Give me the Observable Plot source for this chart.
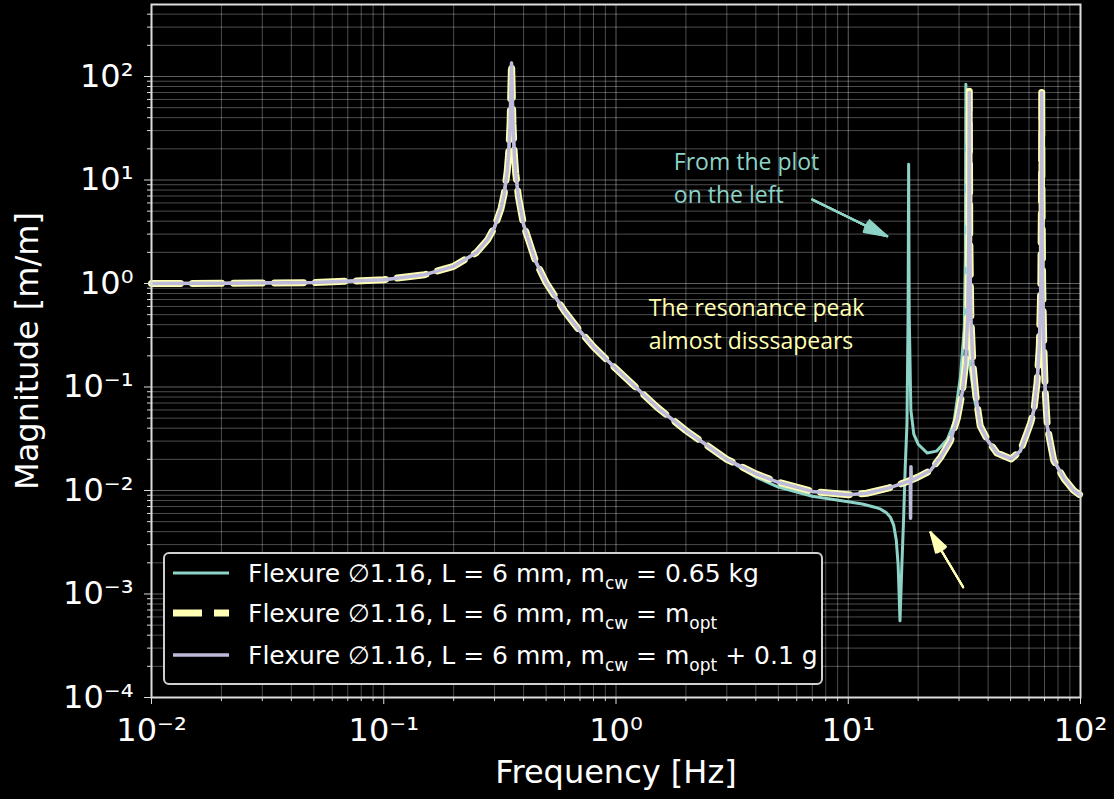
<!DOCTYPE html>
<html>
<head>
<meta charset="utf-8">
<script src="https://cdn.jsdelivr.net/npm/d3@7"></script>
<script src="https://cdn.jsdelivr.net/npm/@observablehq/plot@0.6"></script>
<style>
  html, body { margin: 0; padding: 0; background: #000; }
  #wrap { position: relative; width: 1114px; height: 799px; background: #000; }
  #legend { position: absolute; left: 163px; top: 552px; width: 656px; height: 129px;
    border: 2px solid #d0d0d0; border-radius: 6px; background: #000;
    font-family: "DejaVu Sans", sans-serif; font-size: 25px; color: #fff; }
  .row { position: absolute; left: 0; height: 40px; display: flex; align-items: center; white-space: nowrap; }
  .row svg { margin-left: 8px; margin-right: 19px; }
  .sb { font-size: 17px; position: relative; top: 7px; }
</style>
</head>
<body>
<div id="wrap"></div>
<script>
// ---------- data ----------
const xMajor = [0.01, 0.1, 1, 10, 100];
const xMinor = [0.02,0.03,0.04,0.05,0.06,0.07,0.08,0.09,0.2,0.3,0.4,0.5,0.6,0.7,0.8,0.9,2,3,4,5,6,7,8,9,20,30,40,50,60,70,80,90];
const yMajor = [1e-4, 1e-3, 1e-2, 1e-1, 1, 10, 100];
const yMinor = [2e-4,3e-4,4e-4,5e-4,6e-4,7e-4,8e-4,9e-4,2e-3,3e-3,4e-3,5e-3,6e-3,7e-3,8e-3,9e-3,
  0.02,0.03,0.04,0.05,0.06,0.07,0.08,0.09,0.2,0.3,0.4,0.5,0.6,0.7,0.8,0.9,2,3,4,5,6,7,8,9,20,30,40,50,60,70,80,90,200,300,400];

const seriesNames = [
  "Flexure ∅1.16, L = 6 mm, m_cw = 0.65 kg",
  "Flexure ∅1.16, L = 6 mm, m_cw = m_opt",
  "Flexure ∅1.16, L = 6 mm, m_cw = m_opt + 0.1 g"
];
const seriesColors = ["#8dd3c7", "#ffffb3", "#bebada"];

// m_cw = 0.65 kg
const tealF = [0.01,0.02,0.05,0.1,0.15,0.2,0.25,0.28,0.3,0.32,0.33,0.34,0.345,0.35,0.3525,0.355,0.3575,0.36,0.365,0.37,0.38,0.4,0.45,0.5,0.6,0.7,0.8,1,1.5,2,3,
  4,5,7,10,11.5,13,13.8,14.6,15.2,15.7,16.1,16.4,16.7,17.0,17.3,17.6,17.9,18.1,18.2,18.3,18.6,19.15,20,21.9,24,26.7,28.5,30.4,31.6,31.95,32.1,32.25,32.7,33.5,35,37,40,43.7,50.3,55,58,61,63,65,66.5,67.5,67.95,68.1,68.25,68.7,69.5,70.5,72,76.7,85,93.5,100];
const tealM = [1.0,1.003,1.02,1.086,1.217,1.465,1.98,2.65,3.5,5.33,7.35,12.1,18,35.7,71,135,71,35,17.5,11.6,6.9,3.7,1.65,1.02,0.54,0.346,0.245,0.15,0.064,0.038,0.020,
  0.0135,0.0108,0.0088,0.0078,0.0074,0.0069,0.0066,0.0061,0.0055,0.0046,0.0033,0.0019,0.00055,0.0018,0.0051,0.0172,0.044,0.5,14.2,0.5,0.06,0.035,0.028,0.023,0.024,0.031,0.045,0.124,0.376,2,84,2,0.4,0.15,0.075,0.042,0.030,0.023,0.0202,0.024,0.033,0.045,0.06,0.11,0.25,1,8,69,8,1,0.25,0.09,0.041,0.0195,0.013,0.010,0.0090];

// m_cw = m_opt
const optF = [0.01,0.02,0.05,0.1,0.15,0.2,0.25,0.28,0.3,0.32,0.33,0.34,0.345,0.35,0.3525,0.355,0.3575,0.36,0.365,0.37,0.38,0.4,0.45,0.5,0.6,0.7,0.8,1,1.5,2,3,
  4,5,7,10,12,15,18,20,22.6,25,27.5,29.5,31,32,32.7,33.05,33.2,33.35,33.7,34.4,35.5,37,40,43.7,50.3,55,58,61,63,65,66.5,67.5,67.95,68.1,68.25,68.7,69.5,70.5,72,76.7,85,93.5,100];
const optM = [1.0,1.003,1.02,1.086,1.217,1.465,1.98,2.65,3.5,5.33,7.35,12.1,18,35.7,71,135,71,35,17.5,11.6,6.9,3.7,1.65,1.02,0.54,0.346,0.245,0.15,0.064,0.038,0.020,
  0.0145,0.012,0.0098,0.0091,0.0094,0.0106,0.0122,0.0135,0.0156,0.021,0.030,0.05,0.09,0.17,0.5,3,72,3,0.5,0.17,0.08,0.042,0.030,0.023,0.0202,0.024,0.033,0.045,0.06,0.11,0.25,1,8,70,8,1,0.25,0.09,0.041,0.0195,0.013,0.010,0.0090];

// m_cw = m_opt + 0.1 g
const plusF = [0.01,0.02,0.05,0.1,0.15,0.2,0.25,0.28,0.3,0.32,0.33,0.34,0.345,0.35,0.3525,0.355,0.3575,0.36,0.365,0.37,0.38,0.4,0.45,0.5,0.6,0.7,0.8,1,1.5,2,3,
  4,5,7,10,12,15,18,18.5,18.55,18.62,18.68,20,22.6,25,27.5,29.5,31,32,32.7,33.05,33.2,33.35,33.7,34.4,35.5,37,40,43.7,50.3,55,58,61,63,65,66.5,67.5,67.95,68.1,68.25,68.7,69.5,70.5,72,76.7,85,93.5,100];
const plusM = [1.0,1.003,1.02,1.086,1.217,1.465,1.98,2.65,3.5,5.33,7.35,12.1,18,35.7,71,135,71,35,17.5,11.6,6.9,3.7,1.65,1.02,0.54,0.346,0.245,0.15,0.064,0.038,0.020,
  0.0145,0.012,0.0098,0.0091,0.0094,0.0106,0.0122,0.0124,0.0054,0.017,0.0125,0.0135,0.0156,0.021,0.030,0.05,0.09,0.17,0.5,3,70,3,0.5,0.17,0.08,0.042,0.030,0.023,0.0202,0.024,0.033,0.045,0.06,0.11,0.25,1,8,70,8,1,0.25,0.09,0.041,0.0195,0.013,0.010,0.0090];

// annotations
const noteTeal = {text: "From the plot\non the left", x: 1.774, y: 6.05};
const noteYellow = {text: "The resonance peak\nalmost disssapears", x: 1.384, y: 0.2326};
const arrowTeal = {x1: 6.995, y1: 6.48, x2: 14.72, y2: 2.86};
const arrowYellow = {x1: 31.26, y1: 1.163e-3, x2: 22.6, y2: 3.95e-3};

// ---------- build ----------
const toRows = (F, M) => F.map((f, i) => ({f, m: M[i]}));
const sup = {"-": "⁻", "0": "⁰", "1": "¹", "2": "²", "3": "³", "4": "⁴", "5": "⁵"};
const fmt = d => "10" + String(Math.round(Math.log10(d))).split("").map(c => sup[c]).join("");

const arrowMarks = (a, color) => [32, 24, 16, 8].map(ang =>
  Plot.arrow([a], {x1: "x1", y1: "y1", x2: "x2", y2: "y2", stroke: color, strokeWidth: 2,
    headLength: 18, headAngle: ang}));

const plot = Plot.plot({
  width: 1114, height: 799,
  marginLeft: 151, marginRight: 34, marginTop: 4, marginBottom: 102,
  style: {background: "#000", color: "#fff", fontFamily: "DejaVu Sans", fontSize: "32px"},
  x: {type: "log", domain: [0.01, 100]},
  y: {type: "log", domain: [1e-4, 496]},
  marks: [
    Plot.gridX({ticks: xMinor, stroke: "#fff", strokeOpacity: 0.3}),
    Plot.gridX({ticks: xMajor, stroke: "#fff", strokeOpacity: 0.38}),
    Plot.gridY({ticks: yMinor, stroke: "#fff", strokeOpacity: 0.3}),
    Plot.gridY({ticks: yMajor, stroke: "#fff", strokeOpacity: 0.38}),
    Plot.line(toRows(tealF, tealM), {x: "f", y: "m", stroke: seriesColors[0], strokeWidth: 3}),
    Plot.line(toRows(optF, optM), {x: "f", y: "m", stroke: seriesColors[1], strokeWidth: 7, strokeDasharray: "29,12"}),
    Plot.line(toRows(plusF, plusM), {x: "f", y: "m", stroke: seriesColors[2], strokeWidth: 3.5}),
    Plot.text([noteTeal], {x: "x", y: "y", text: "text", fill: seriesColors[0], fontFamily: "Open Sans",
      fontSize: 23, textAnchor: "start", lineAnchor: "bottom", lineHeight: 1.41}),
    Plot.text([noteYellow], {x: "x", y: "y", text: "text", fill: seriesColors[1], fontFamily: "Open Sans",
      fontSize: 23, textAnchor: "start", lineAnchor: "bottom", lineHeight: 1.45}),
    ...arrowMarks(arrowTeal, seriesColors[0]),
    ...arrowMarks(arrowYellow, seriesColors[1]),
    Plot.axisX({ticks: xMinor, tickSize: 4, tickFormat: () => "", label: null, stroke: "#ddd"}),
    Plot.axisX({ticks: xMajor, tickSize: 7, tickPadding: 14, tickFormat: fmt, label: null, stroke: "#ddd", fill: "#fff"}),
    Plot.axisY({ticks: yMinor, tickSize: 4, tickFormat: () => "", label: null, stroke: "#ddd"}),
    Plot.axisY({ticks: yMajor, tickSize: 7, tickPadding: 11, tickFormat: fmt, label: null, stroke: "#ddd", fill: "#fff"}),
    Plot.frame({stroke: "#ddd", strokeWidth: 2}),
    Plot.text(["Frequency [Hz]"], {text: d => d, frameAnchor: "bottom", dy: 75, fontSize: 32,
      textAnchor: "middle", lineAnchor: "middle", fill: "#fff"}),
    Plot.text(["Magnitude [m/m]"], {text: d => d, frameAnchor: "left", dx: -124, rotate: -90, fontSize: 32,
      textAnchor: "middle", lineAnchor: "middle", fill: "#fff"})
  ]
});

const wrap = document.getElementById("wrap");
wrap.appendChild(plot);

// ---------- legend (inside the axes, like the reference) ----------
const legend = document.createElement("div");
legend.id = "legend";
const swatch = [
  `<svg width="56" height="12"><line x1="0" y1="6" x2="56" y2="6" stroke="${seriesColors[0]}" stroke-width="3"/></svg>`,
  `<svg width="56" height="12"><line x1="0" y1="6" x2="56" y2="6" stroke="${seriesColors[1]}" stroke-width="7" stroke-dasharray="29,12"/></svg>`,
  `<svg width="56" height="12"><line x1="0" y1="6" x2="56" y2="6" stroke="${seriesColors[2]}" stroke-width="3.5"/></svg>`
];
const label = s => s.replace(/m_cw/g, 'm<span class="sb">cw</span>').replace(/m_opt/g, 'm<span class="sb">opt</span>');
const tops = [-1, 39, 81];
seriesNames.forEach((s, i) => {
  const r = document.createElement("div");
  r.className = "row";
  r.style.top = tops[i] + "px";
  r.innerHTML = swatch[i] + `<span>${label(s)}</span>`;
  legend.appendChild(r);
});
wrap.appendChild(legend);
</script>
</body>
</html>
